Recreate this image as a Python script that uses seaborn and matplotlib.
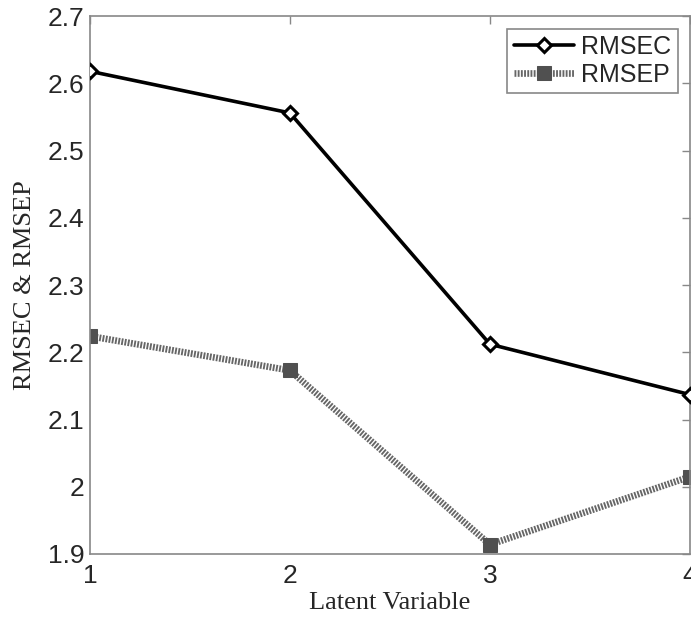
import matplotlib
matplotlib.use("Agg")
import matplotlib.pyplot as plt
import seaborn as sns
import pandas as pd
from matplotlib.ticker import FormatStrFormatter

latent = [1, 2, 3, 4]
rmsec = [2.618, 2.556, 2.212, 2.137]
rmsep = [2.224, 2.173, 1.914, 2.015]
xticks = [1, 2, 3, 4]
yticks = [1.9, 2.0, 2.1, 2.2, 2.3, 2.4, 2.5, 2.6, 2.7]

sns.set_style("white")
plt.rcParams['font.family'] = ['Liberation Sans', 'DejaVu Sans']

fig = plt.figure(figsize=(6.91, 6.2), dpi=100)
ax = fig.add_axes([0.130, 0.1065, 0.8686, 0.8675])

df_c = pd.DataFrame({"x": latent, "y": rmsec})
df_p = pd.DataFrame({"x": latent, "y": rmsep})

sns.lineplot(data=df_p, x="x", y="y", ax=ax, color="#666666", linewidth=4.8,
             marker="s", markersize=10, markerfacecolor="#505050",
             markeredgecolor="#505050", label="RMSEP", zorder=2)
ax.lines[-1].set_linestyle((0, (0.28, 0.2)))
sns.lineplot(data=df_c, x="x", y="y", ax=ax, color="black", linewidth=2.6,
             marker="D", markersize=7, markerfacecolor="white",
             markeredgecolor="black", markeredgewidth=2.2, label="RMSEC", zorder=3)

ax.set_xlim(1, 4)
ax.set_ylim(1.9, 2.7)
ax.set_xticks(xticks)
ax.set_yticks(yticks)
ax.yaxis.set_major_formatter(FormatStrFormatter('%g'))
ax.tick_params(direction='in', length=6, width=1, color='#888888',
               labelsize=19, top=True, right=True, pad=4)
ax.tick_params(axis='x', pad=7)
for s in ax.spines.values():
    s.set_color('#888888')
    s.set_linewidth(1.2)

ax.set_xlabel("Latent Variable", family=['Liberation Serif'], fontsize=19, labelpad=3)
ax.set_ylabel("RMSEC & RMSEP", family=['Liberation Serif'], fontsize=19, labelpad=8)

h, l = ax.get_legend_handles_labels()
order = [l.index("RMSEC"), l.index("RMSEP")]
leg = ax.legend([h[i] for i in order], [l[i] for i in order], loc='upper right',
                fontsize=18, frameon=True, fancybox=False, framealpha=1,
                edgecolor='#888888', handlelength=2.4, handletextpad=0.3,
                borderpad=0.25, labelspacing=0.15, borderaxespad=0.5)
leg.get_frame().set_linewidth(1.2)

fig.savefig("out.png", dpi=100)
